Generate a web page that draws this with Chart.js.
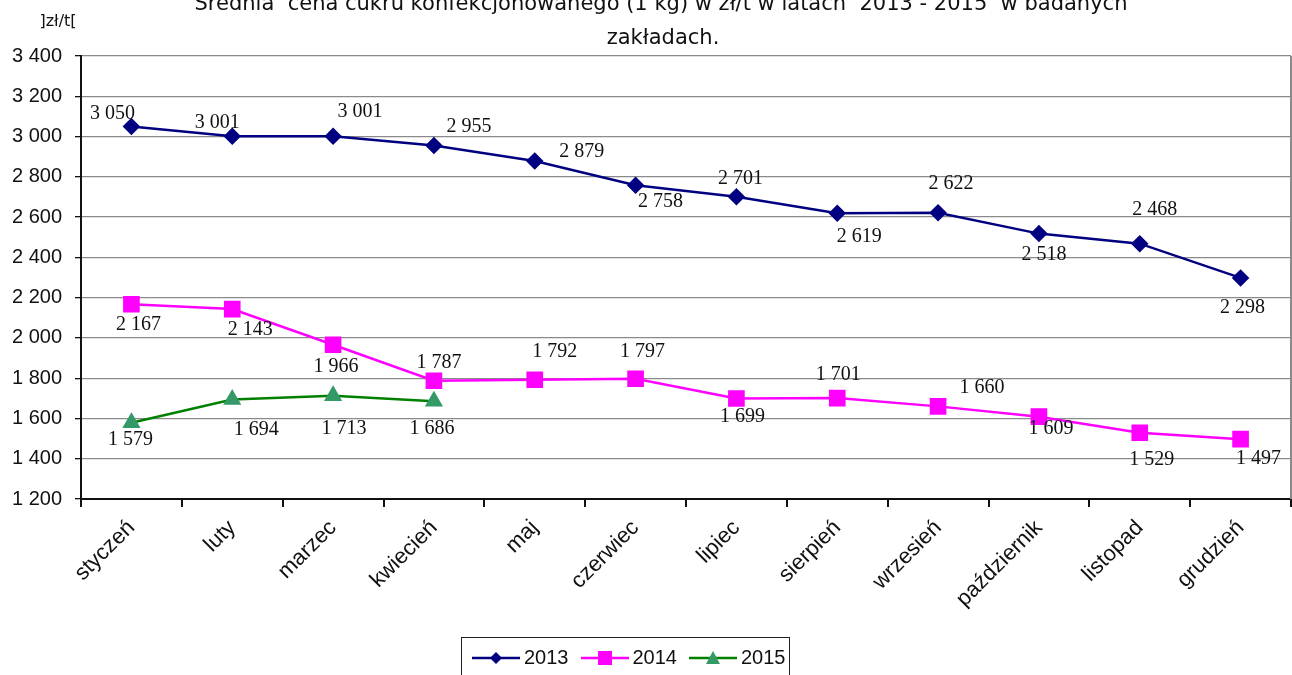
<!DOCTYPE html>
<html>
<head>
<meta charset="utf-8">
<script src="https://cdn.jsdelivr.net/npm/chart.js@4"></script>
<style>
    body { margin: 0; background: #fff; }
    #wrap { position: relative; width: 1292px; height: 675px; overflow: hidden; }
    #legend {
        position: absolute; left: 461px; top: 637px; width: 329px; height: 50px;
        border: 1px solid #222; display: flex; align-items: flex-start; padding-top: 8px;
        box-sizing: border-box; padding-left: 10px;
        font-family: "Liberation Sans", Arial, sans-serif; font-size: 20px; color: #111;
    }
    #legend .item { display: flex; align-items: center; margin-right: 12px; }
    #legend svg { margin-right: 4px; }
</style>
</head>
<body>
<div id="wrap">
    <canvas id="chart" width="1292" height="675"></canvas>
    <div id="legend"></div>
</div>
<script>
const months = ['styczeń', 'luty', 'marzec', 'kwiecień', 'maj', 'czerwiec', 'lipiec',
    'sierpień', 'wrzesień', 'październik', 'listopad', 'grudzień'];
const price2013 = [3050, 3001, 3001, 2955, 2879, 2758, 2701, 2619, 2622, 2518, 2468, 2298];
const price2014 = [2167, 2143, 1966, 1787, 1792, 1797, 1699, 1701, 1660, 1609, 1529, 1497];
const price2015 = [1579, 1694, 1713, 1686, null, null, null, null, null, null, null, null];
const yMin = 1200, yMax = 3400, yStep = 200;

// przesunięcia etykiet wartości względem punktu (dx, dy)
const labelShift = [
    [[-19, -13], [-15, -14], [27, -25], [35, -19], [47, -9], [25, 16], [4, -18], [22, 23], [13, -29], [5, 21], [15, -34], [2, 30]],
    [[7, 20], [18, 21], [3, 22], [5, -18], [20, -28], [7, -27], [6, 18], [1, -23], [44, -19], [12, 12], [12, 27], [18, 20]],
    [[-1, 17], [24, 30], [11, 33], [-2, 28]]
];

function fmt(v) {
    return String(v).replace(/\B(?=(\d{3})+(?!\d))/g, ' ');
}

const seriesStyle = [
    { label: '2013', color: '#000080', fill: '#000080', point: 'rectRot', r: 7 },
    { label: '2014', color: '#ff00ff', fill: '#ff00ff', point: 'rect', r: 10 },
    { label: '2015', color: '#008000', fill: '#339966', point: 'triangle', r: 8 }
];
const seriesData = [price2013, price2014, price2015];

// Etykiety wartości
const valueLabels = {
    id: 'valueLabels',
    afterDatasetsDraw(chart) {
        const ctx = chart.ctx;
        ctx.save();
        ctx.font = '20px "Liberation Serif", "Times New Roman", serif';
        ctx.fillStyle = '#111';
        ctx.textAlign = 'center';
        ctx.textBaseline = 'middle';
        chart.data.datasets.forEach((ds, i) => {
            const meta = chart.getDatasetMeta(i);
            meta.data.forEach((pt, j) => {
                const v = ds.data[j];
                if (v == null) return;
                const s = labelShift[i][j] || [0, -18];
                ctx.fillText(fmt(v), pt.x + s[0], pt.y + s[1]);
            });
        });
        ctx.restore();
    }
};

// Tytuł, jednostka i prawa krawędź
const decor = {
    id: 'decor',
    afterDraw(chart) {
        const ctx = chart.ctx;
        const area = chart.chartArea;
        ctx.save();
        ctx.strokeStyle = '#8a8a8a';
        ctx.lineWidth = 2;
        ctx.beginPath();
        ctx.moveTo(area.right, area.top);
        ctx.lineTo(area.right, area.bottom);
        ctx.stroke();

        ctx.fillStyle = '#111';
        ctx.textAlign = 'center';
        ctx.textBaseline = 'middle';
        ctx.font = '21px "DejaVu Sans", sans-serif';
        ctx.fillText('Średnia  cena cukru konfekcjonowanego (1 kg) w zł/t w latach  2013 - 2015  w badanych', 661, 5);
        ctx.fillText('zakładach.', 663, 39);
        ctx.font = '16px "DejaVu Sans", sans-serif';
        ctx.fillText(']zł/t[', 58, 22);
        ctx.restore();
    }
};

const chart = new Chart(document.getElementById('chart'), {
    type: 'line',
    data: {
        labels: months,
        datasets: seriesStyle.map((s, i) => ({
            label: s.label,
            data: seriesData[i],
            borderColor: s.color,
            backgroundColor: s.fill,
            pointBackgroundColor: s.fill,
            pointBorderColor: s.fill,
            pointStyle: s.point,
            pointRadius: s.r,
            pointHoverRadius: s.r,
            borderWidth: 2.5,
            tension: 0,
            spanGaps: false,
            clip: false
        }))
    },
    options: {
        responsive: false,
        animation: false,
        layout: { autoPadding: false, padding: { top: 56, right: 1, left: 0, bottom: 0 } },
        plugins: {
            legend: { display: false },
            tooltip: { enabled: false }
        },
        scales: {
            x: {
                offset: true,
                grid: { drawOnChartArea: false, offset: true, tickLength: 8, tickColor: '#111', lineWidth: 2 },
                border: { color: '#111', width: 2 },
                ticks: {
                    color: '#111',
                    maxRotation: 45, minRotation: 45,
                    padding: 8,
                    font: { family: '"Liberation Sans", Arial, sans-serif', size: 22 }
                },
                afterFit(scale) {
                    scale.height = 176;
                    scale.paddingLeft = 0;
                    scale.paddingRight = 0;
                }
            },
            y: {
                min: yMin, max: yMax,
                grid: { color: '#8a8a8a', lineWidth: 1.3, tickLength: 6, tickColor: '#111' },
                border: { color: '#111', width: 2 },
                ticks: {
                    stepSize: yStep,
                    color: '#111',
                    padding: 13,
                    font: { family: '"Liberation Sans", Arial, sans-serif', size: 20 },
                    callback: v => fmt(v)
                },
                afterFit(scale) { scale.width = 81; }
            }
        }
    },
    plugins: [valueLabels, decor]
});

// Legenda
function swatch(s) {
    let mark = '';
    if (s.point === 'rectRot') mark = '<polygon points="24,2 30,8 24,14 18,8" fill="' + s.fill + '"/>';
    else if (s.point === 'rect') mark = '<rect x="17" y="1" width="14" height="14" fill="' + s.fill + '"/>';
    else mark = '<polygon points="24,1 31,14 17,14" fill="' + s.fill + '"/>';
    return '<svg width="48" height="16"><line x1="0" y1="8" x2="48" y2="8" stroke="' + s.color + '" stroke-width="2.5"/>' + mark + '</svg>';
}
document.getElementById('legend').innerHTML = seriesStyle.map(s =>
    '<span class="item">' + swatch(s) + '<span>' + s.label + '</span></span>').join('');
</script>
</body>
</html>
